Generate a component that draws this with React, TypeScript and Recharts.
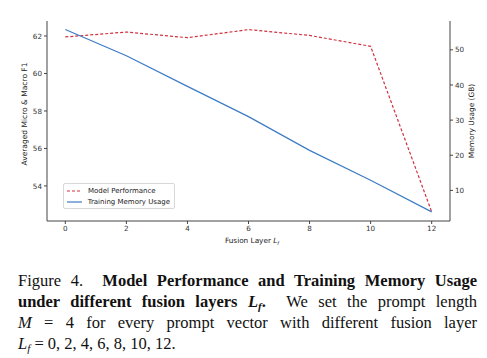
import { LineChart, Line, XAxis, YAxis } from 'recharts';

// fusion layer L_f
const layers = [0, 2, 4, 6, 8, 10, 12];
// averaged micro & macro F1
const performance = [61.95, 62.21, 61.91, 62.34, 62.03, 61.45, 52.62];
// training memory usage (GB)
const memory = [55.8, 48.3, 39.6, 31.0, 21.4, 12.9, 3.9];

const xTicks = [0, 2, 4, 6, 8, 10, 12];
const leftTicks = [54, 56, 58, 60, 62];
const rightTicks = [10, 20, 30, 40, 50];

const data = layers.map((l, i) => ({ layer: l, perf: performance[i], mem: memory[i] }));

const RED = '#d0323f';
const BLUE = '#3d7cc4';
const AXIS = '#444';
const FONT = 'DejaVu Sans';
const TICK_FONT = { fontSize: 7.2, fill: '#333', fontFamily: FONT };

function ChartLegend() {
  const row = (label: string, color: string, dash?: string) => (
    <div style={{ display: 'flex', alignItems: 'center', height: 11 }}>
      <svg width={16} height={6} style={{ marginRight: 5 }}>
        <line x1={0} y1={3} x2={15} y2={3} stroke={color} strokeWidth={1.2} strokeDasharray={dash} />
      </svg>
      <span>{label}</span>
    </div>
  );
  return (
    <div
      style={{
        position: 'absolute',
        left: 63,
        top: 183,
        width: 103,
        border: '1px solid #d8d8d8',
        borderRadius: 2,
        padding: '1px 4px 1px 3px',
        background: 'white',
        fontFamily: FONT,
        fontSize: 7,
        color: '#222',
        whiteSpace: 'nowrap',
      }}
    >
      {row('Model Performance', RED, '3 2')}
      {row('Training Memory Usage', BLUE)}
    </div>
  );
}

// axis titles drawn on top of the chart
function AxisTitles() {
  return (
    <svg width={487} height={250} style={{ position: 'absolute', left: 0, top: 0, pointerEvents: 'none' }}>
      <text x={27} y={114} transform="rotate(-90 27 114)" textAnchor="middle" fontSize={7.5} fontFamily={FONT} fill="#222">
        Averaged Micro &amp; Macro F1
      </text>
      <text x={474} y={121} transform="rotate(-90 474 121)" textAnchor="middle" fontSize={7.4} fontFamily={FONT} fill="#222">
        Memory Usage (GB)
      </text>
      <text x={252} y={243} textAnchor="middle" fontSize={7.3} fontFamily={FONT} fill="#222">
        Fusion Layer <tspan fontStyle="italic">L</tspan>
        <tspan fontStyle="italic" fontSize={5} dy={1.5}>f</tspan>
      </text>
    </svg>
  );
}

const sub = { fontSize: 11, lineHeight: 0, verticalAlign: '-0.25em' } as const;
const line = { height: 21, whiteSpace: 'nowrap', textAlign: 'justify', textAlignLast: 'justify' } as const;

export default function App() {
  return (
    <div style={{ position: 'absolute', left: 0, top: 0, width: 487, height: 358, background: 'white' }}>
      <LineChart width={487} height={250} data={data} margin={{ top: 21, right: 0, bottom: 0, left: 0 }}>
        <XAxis
          dataKey="layer"
          type="number"
          domain={[-0.6, 12.6]}
          ticks={xTicks}
          tick={TICK_FONT}
          tickSize={3}
          tickLine={{ stroke: AXIS }}
          axisLine={{ stroke: AXIS }}
          height={29}
        />
        <XAxis xAxisId="top" orientation="top" dataKey="layer" type="number" domain={[-0.6, 12.6]} height={0} tick={false} tickLine={false} axisLine={{ stroke: AXIS }} />
        <YAxis
          yAxisId="left"
          domain={[52.13, 62.8]}
          ticks={leftTicks}
          tick={TICK_FONT}
          tickSize={3}
          tickLine={{ stroke: AXIS }}
          axisLine={{ stroke: AXIS }}
          width={47}
          allowDataOverflow
        />
        <YAxis
          yAxisId="right"
          orientation="right"
          domain={[1.3, 58.2]}
          ticks={rightTicks}
          tick={TICK_FONT}
          tickSize={3}
          tickLine={{ stroke: AXIS }}
          axisLine={{ stroke: AXIS }}
          width={37}
          allowDataOverflow
        />
        <Line yAxisId="left" type="linear" dataKey="perf" stroke={RED} strokeWidth={1.2} strokeDasharray="3 2" dot={false} isAnimationActive={false} />
        <Line yAxisId="right" type="linear" dataKey="mem" stroke={BLUE} strokeWidth={1.2} dot={false} isAnimationActive={false} />
      </LineChart>
      <AxisTitles />
      <ChartLegend />
      <div
        style={{
          position: 'absolute',
          left: 18,
          top: 270,
          width: 459,
          fontFamily: '"Liberation Serif", serif',
          fontSize: 16.5,
          lineHeight: '21px',
          color: '#111',
        }}
      >
        <div style={line}>
          Figure 4.&nbsp; <b>Model Performance and Training Memory Usage</b>
        </div>
        <div style={line}>
          <b>under different fusion layers <i>L<sub style={sub}>f</sub></i>.</b>&nbsp; We set the prompt length
        </div>
        <div style={line}>
          <i>M</i> = 4 for every prompt vector with different fusion layer
        </div>
        <div style={{ height: 21, whiteSpace: 'nowrap' }}>
          <i>L<sub style={sub}>f</sub></i> = 0, 2, 4, 6, 8, 10, 12.
        </div>
      </div>
    </div>
  );
}
